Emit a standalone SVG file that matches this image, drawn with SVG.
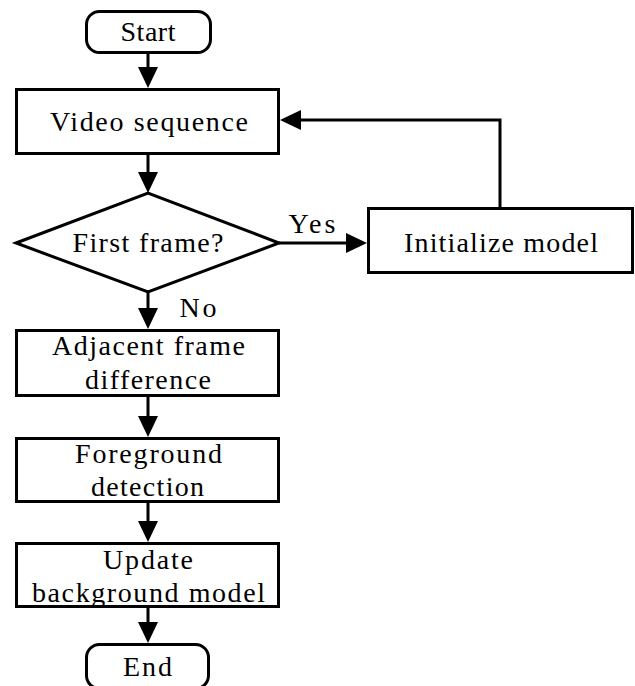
<svg xmlns="http://www.w3.org/2000/svg" width="635" height="686" viewBox="0 0 635 686">
<defs>
<style>
.box{fill:#fff;stroke:#000;stroke-width:3}
.c{fill:none;stroke:#000;stroke-width:3}
</style>
<marker id="ah" markerUnits="userSpaceOnUse" markerWidth="21" markerHeight="20" refX="17" refY="10" orient="auto" viewBox="0 0 21 20">
<path d="M0,0 L21,10 L0,20 Z" fill="#000"/>
</marker>
</defs>
<rect width="635" height="686" fill="#fff"/>
<g id="connectors">
<line class="c" x1="148" y1="53" x2="148" y2="84" marker-end="url(#ah)"/>
<line class="c" x1="148" y1="155" x2="148" y2="189" marker-end="url(#ah)"/>
<line class="c" x1="279" y1="243" x2="363" y2="243" marker-end="url(#ah)"/>
<polyline class="c" points="500,207 500,120 284,120" marker-end="url(#ah)"/>
<line class="c" x1="148" y1="292" x2="148" y2="325" marker-end="url(#ah)"/>
<line class="c" x1="148" y1="397" x2="148" y2="433" marker-end="url(#ah)"/>
<line class="c" x1="148" y1="503" x2="148" y2="538" marker-end="url(#ah)"/>
<line class="c" x1="148" y1="608" x2="148" y2="639" marker-end="url(#ah)"/>
<text font-family="Liberation Serif, serif" font-size="28" text-anchor="middle" x="312" y="233" textLength="47" lengthAdjust="spacing">Yes</text>
<text font-family="Liberation Serif, serif" font-size="28" text-anchor="middle" x="198" y="317" textLength="37" lengthAdjust="spacing">No</text>
</g>
<g id="start">
<rect class="box" x="86.5" y="11.5" width="124" height="41" rx="13"/>
<text font-family="Liberation Serif, serif" font-size="28" text-anchor="middle" x="148" y="41" textLength="55" lengthAdjust="spacing">Start</text>
</g>
<g id="video">
<rect class="box" x="16.5" y="89.5" width="262" height="64"/>
<text font-family="Liberation Serif, serif" font-size="28" text-anchor="middle" x="149" y="131" textLength="198" lengthAdjust="spacing">Video sequence</text>
</g>
<g id="first">
<polygon class="box" points="16,243 148,193 279,243 148,292"/>
<text font-family="Liberation Serif, serif" font-size="28" text-anchor="middle" x="148" y="252" textLength="151" lengthAdjust="spacing">First frame?</text>
</g>
<g id="init">
<rect class="box" x="368.5" y="208.5" width="264" height="64"/>
<text font-family="Liberation Serif, serif" font-size="28" text-anchor="middle" x="501" y="252" textLength="194" lengthAdjust="spacing">Initialize model</text>
</g>
<g id="adjacent">
<rect class="box" x="16.5" y="330.5" width="262" height="65"/>
<text font-family="Liberation Serif, serif" font-size="28" text-anchor="middle" x="148.5" y="355" textLength="193" lengthAdjust="spacing">Adjacent frame</text>
<text font-family="Liberation Serif, serif" font-size="28" text-anchor="middle" x="148" y="389" textLength="126" lengthAdjust="spacing">difference</text>
</g>
<g id="foreground">
<rect class="box" x="16.5" y="438.5" width="262" height="63"/>
<text font-family="Liberation Serif, serif" font-size="28" text-anchor="middle" x="148.5" y="463" textLength="147" lengthAdjust="spacing">Foreground</text>
<text font-family="Liberation Serif, serif" font-size="28" text-anchor="middle" x="147.5" y="496" textLength="113" lengthAdjust="spacing">detection</text>
</g>
<g id="update">
<rect class="box" x="16.5" y="543.5" width="262" height="63"/>
<text font-family="Liberation Serif, serif" font-size="28" text-anchor="middle" x="148" y="569" textLength="90" lengthAdjust="spacing">Update</text>
<text font-family="Liberation Serif, serif" font-size="28" text-anchor="middle" x="148.5" y="602" textLength="233" lengthAdjust="spacing">background model</text>
</g>
<g id="end">
<rect class="box" x="86.5" y="644.5" width="122" height="44" rx="13"/>
<text font-family="Liberation Serif, serif" font-size="28" text-anchor="middle" x="147.5" y="676" textLength="49" lengthAdjust="spacing">End</text>
</g>
</svg>
